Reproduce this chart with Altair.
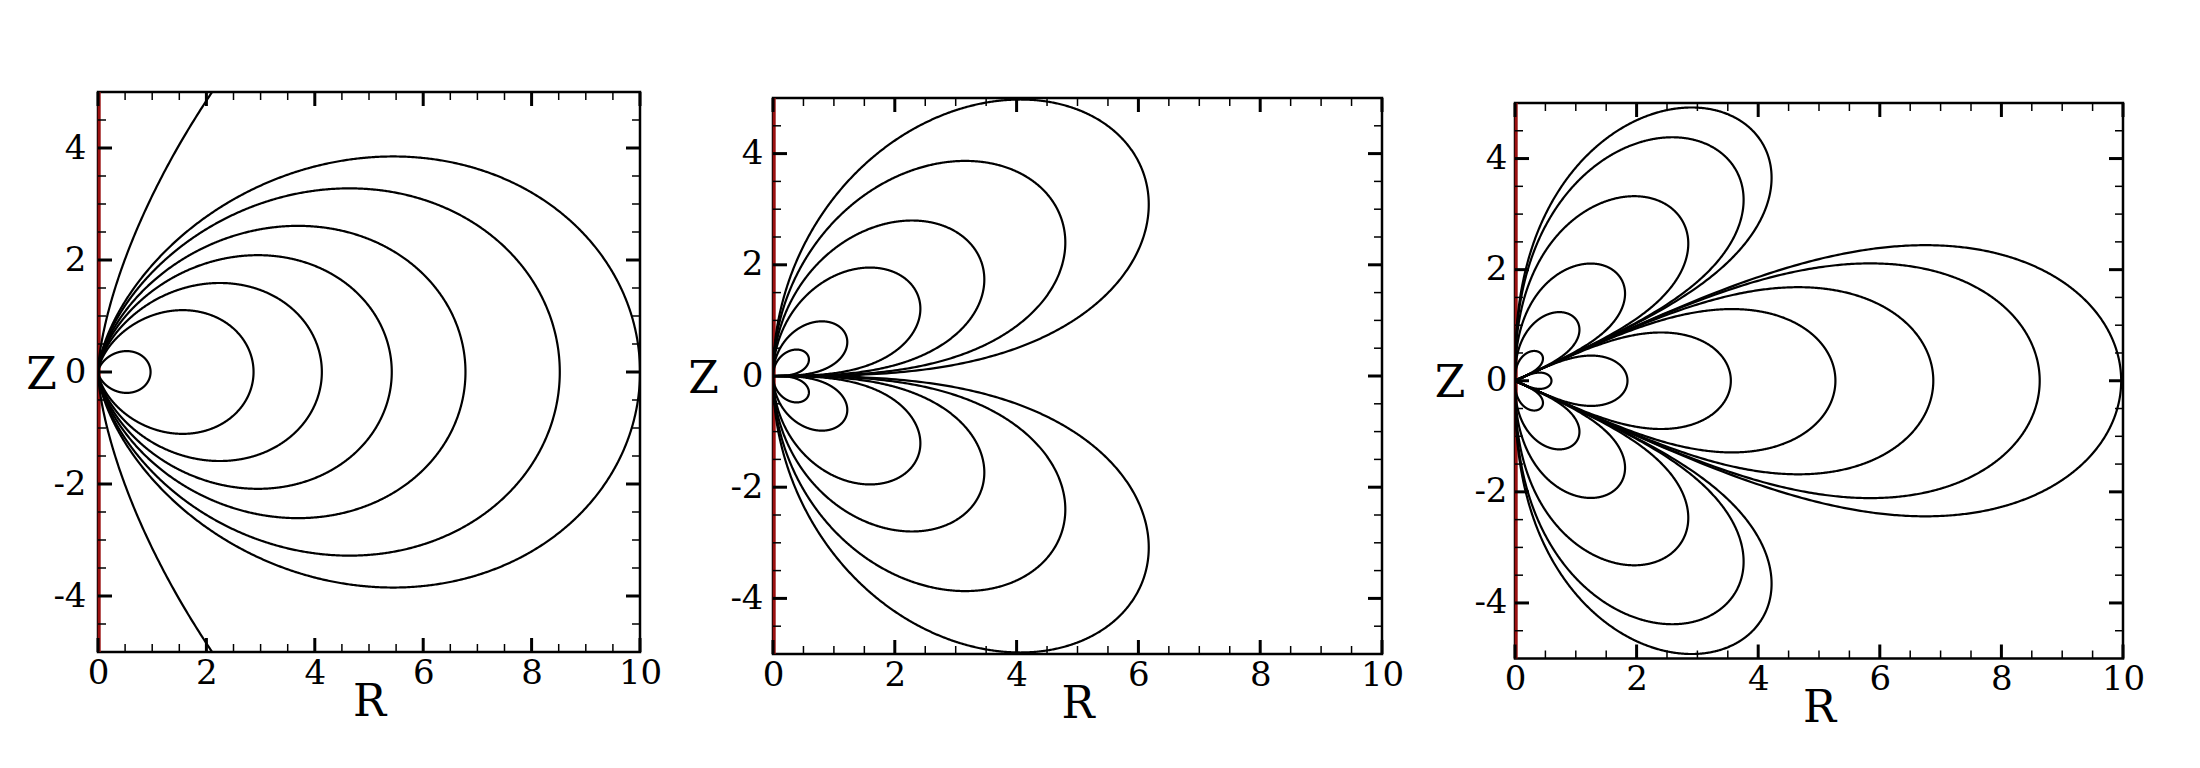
import numpy as np
import pandas as pd
import altair as alt

# ---- values ----
# Panel 1 (dipole): R where each field line crosses Z = 0 (last one leaves the box)
DIPOLE_EXTENT = [0.97, 2.87, 4.13, 5.42, 6.78, 8.52, 10.0, 36.0]
# Panel 2 (quadrupole): largest R reached by each lobe (same above and below Z = 0)
QUAD_EXTENT = [6.17, 4.80, 3.47, 2.42, 1.22, 0.59]
# Panel 3 (hexapole): largest R of the polar lobes, and Z = 0 crossing of the equatorial lobes
HEX_POLAR_EXTENT = [4.22, 3.76, 2.85, 1.81, 1.06, 0.46]
HEX_EQUATOR_EXTENT = [9.97, 8.63, 6.88, 5.27, 3.55, 1.85, 0.60]

X_MAJOR = [0, 2, 4, 6, 8, 10]
X_MINOR = [0.5, 1, 1.5, 2.5, 3, 3.5, 4.5, 5, 5.5, 6.5, 7, 7.5, 8.5, 9, 9.5]
Y_MAJOR = [-4, -2, 0, 2, 4]
Y_MINOR = [-4.5, -3.5, -3, -2.5, -1.5, -1, -0.5, 0.5, 1, 1.5, 2.5, 3, 3.5, 4.5]

FONT = "DejaVu Serif"
LABEL_SIZE = 34


def lobe(theta, shape, extent):
    r = shape(theta)
    R = r * np.sin(theta)
    Z = r * np.cos(theta)
    k = extent / R.max()
    return R * k, Z * k


def build(lobes):
    rows = []
    for lid, (R, Z) in enumerate(lobes):
        rows.append(pd.DataFrame({"R": R, "Z": Z, "line": lid, "i": np.arange(len(R))}))
    return pd.concat(rows, ignore_index=True)


dip_shape = lambda t: np.sin(t) ** 2
quad_shape = lambda t: np.sin(t) * np.sqrt(np.abs(np.cos(t)))
hex_shape = lambda t: np.cbrt(np.sin(t) ** 2 * np.abs(5 * np.cos(t) ** 2 - 1))

th_full = np.linspace(0, np.pi, 1441)
th_up = np.linspace(0, np.pi / 2, 721)
th_dn = np.linspace(np.pi / 2, np.pi, 721)
t0 = np.arccos(1 / np.sqrt(5))
th_pu = np.linspace(0, t0, 601)
th_eq = np.linspace(t0, np.pi - t0, 601)
th_pd = np.linspace(np.pi - t0, np.pi, 601)

dip_df = build([lobe(th_full, dip_shape, L) for L in DIPOLE_EXTENT])
quad_df = build([lobe(th_up, quad_shape, e) for e in QUAD_EXTENT] +
                [lobe(th_dn, quad_shape, e) for e in QUAD_EXTENT])
hex_df = build([lobe(th_pu, hex_shape, e) for e in HEX_POLAR_EXTENT] +
               [lobe(th_pd, hex_shape, e) for e in HEX_POLAR_EXTENT] +
               [lobe(th_eq, hex_shape, e) for e in HEX_EQUATOR_EXTENT])


def panel(df, w, h, a_left, b_right, z_x, ylab_pad):
    xs = alt.Scale(domain=[0, 10], nice=False, zero=False)
    ys = alt.Scale(domain=[-5, 5], nice=False, zero=False)
    xaxis = alt.Axis(values=X_MAJOR, title="R", labelFont=FONT, labelFontSize=LABEL_SIZE,
                     labelColor="black", labelPadding=4, labelFlush=False, labelOverlap=False,
                     ticks=False, domain=False, grid=False,
                     titleFont=FONT, titleFontSize=44, titleFontWeight="normal", titleColor="black",
                     titleX=w / 2, titleY=63, titleAlign="center", titleBaseline="alphabetic")
    yaxis = alt.Axis(values=Y_MAJOR, title="Z", labelFont=FONT, labelFontSize=LABEL_SIZE,
                     labelColor="black", labelPadding=ylab_pad, labelFlush=False, labelOverlap=False,
                     labelExpr="'' + datum.value",
                     ticks=False, domain=False, grid=False,
                     titleFont=FONT, titleFontSize=44, titleFontWeight="normal", titleColor="black",
                     titleAngle=0, titleX=z_x, titleY=h / 2 + 16, titleAlign="center",
                     titleBaseline="alphabetic")
    xenc = alt.X("R:Q", scale=xs, axis=xaxis)
    yenc = alt.Y("Z:Q", scale=ys, axis=yaxis)

    anchor = alt.Chart(pd.DataFrame({"a": [0]})).mark_rule(strokeOpacity=0).encode(
        x=alt.value(-a_left), x2=alt.value(w + b_right), y=alt.value(2))

    red = alt.Chart(pd.DataFrame({"R": [0]})).mark_rule(
        color="#9a1010", strokeWidth=3, xOffset=1.2).encode(
        x=xenc, y=alt.value(0), y2=alt.value(h))

    curves = alt.Chart(df).mark_line(clip=True, color="black", strokeWidth=2.2).encode(
        x=xenc, y=yenc, detail="line:N", order="i:Q")

    layers = [anchor, red, curves]
    for vals, ln, sw in [(X_MAJOR, 14, 3), (X_MINOR, 8, 1.5)]:
        d = pd.DataFrame({"R": vals})
        layers.append(alt.Chart(d).mark_rule(color="black", strokeWidth=sw).encode(
            x=xenc, y=alt.value(h), y2=alt.value(h - ln)))
        layers.append(alt.Chart(d).mark_rule(color="black", strokeWidth=sw).encode(
            x=xenc, y=alt.value(0), y2=alt.value(ln)))
    for vals, ln, sw in [(Y_MAJOR, 14, 3), (Y_MINOR, 8, 1.5)]:
        d = pd.DataFrame({"Z": vals})
        layers.append(alt.Chart(d).mark_rule(color="black", strokeWidth=sw).encode(
            y=yenc, x=alt.value(0), x2=alt.value(ln)))
        layers.append(alt.Chart(d).mark_rule(color="black", strokeWidth=sw).encode(
            y=yenc, x=alt.value(w), x2=alt.value(w - ln)))

    return alt.layer(*layers).properties(
        width=w, height=h,
        view=alt.ViewBackground(stroke="black", strokeWidth=2.5, fill="white"))


def spacer(hgt):
    return alt.Chart(pd.DataFrame({"a": [0]})).mark_point(opacity=0, size=0).encode(
        x=alt.value(0), y=alt.value(0)).properties(
        width=1, height=hgt, view=alt.ViewBackground(stroke="transparent"))


p1 = panel(dip_df, 542, 560, 88.5, 37.5, -57, 12)
p2 = panel(quad_df, 609, 556, 92.5, 37.5, -70, 10)
p3 = panel(hex_df, 608, 555.5, 92.5, 37.5, -65.5, 8)

col1 = alt.vconcat(spacer(79), p1, spacing=0)
col2 = alt.vconcat(spacer(85), p2, spacing=0)
col3 = alt.vconcat(spacer(90.5), p3, spacing=0)

chart = alt.hconcat(col1, col2, col3, spacing=0).properties(
    padding={"left": 0, "top": 0, "right": 0, "bottom": 0},
    background="white",
).configure_view(stroke="transparent").configure_axis(
    labelFont=FONT, labelFontSize=LABEL_SIZE, labelColor="black",
    titleFont=FONT, titleFontWeight="normal", titleColor="black",
)

chart.save("out.html", embed_options={"renderer": "svg", "actions": False})
